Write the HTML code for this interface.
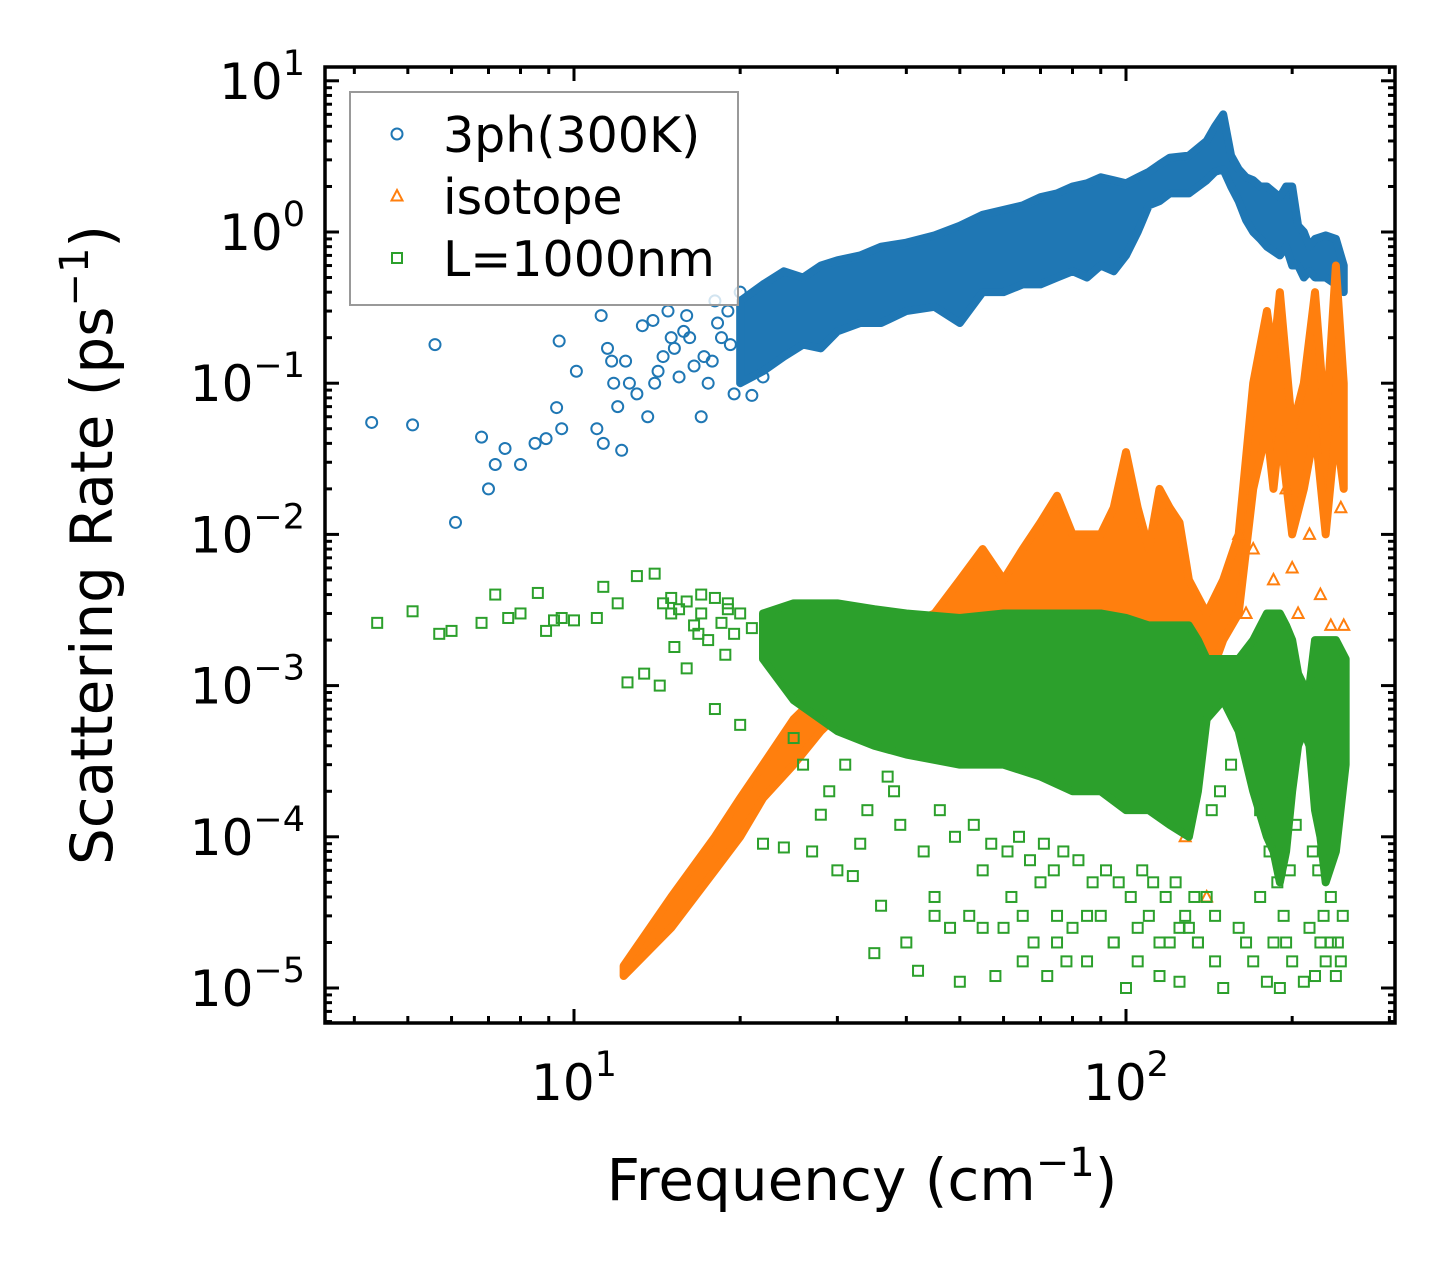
<!DOCTYPE html>
<html><head><meta charset="utf-8"><style>
html,body{margin:0;padding:0;background:#fff;}
svg{display:block;font-family:"DejaVu Sans","Liberation Sans",sans-serif;}
</style></head><body>
<svg id="chart" width="1455" height="1273" viewBox="0 0 1455 1273" xmlns="http://www.w3.org/2000/svg">
<g id="plot"></g>
</svg>
<script>
// ---- data ----
const blueSparseF=[4.3,5.1,5.6,6.1,6.8,7.0,7.2,7.5,8.0,8.5,8.9,9.3,9.4,9.5,10.1,11,11.2,11.3,11.5,11.7,11.8,12,12.2,12.4,12.6,13,13.3,13.6,13.9,14,14.5,14.8,15,15.5,16,16.5,17,17.5,18,18.5,19,19.5,20,21,22,15.2,16.2,17.2,18.2,19.2,14.2,15.8,17.8];
const blueSparseV=[0.055,0.053,0.18,0.012,0.044,0.02,0.029,0.037,0.029,0.04,0.043,0.069,0.19,0.05,0.12,0.05,0.28,0.04,0.17,0.14,0.1,0.07,0.036,0.14,0.1,0.085,0.24,0.06,0.26,0.1,0.15,0.3,0.2,0.11,0.28,0.13,0.06,0.1,0.35,0.2,0.3,0.085,0.4,0.083,0.11,0.17,0.2,0.15,0.25,0.18,0.12,0.22,0.14];
const blueBandF=[20,22,24,26,28,30,33,36,40,45,50,55,60,65,70,75,80,85,90,95,100,105,110,115,120,130,140,145,150,155,160,165,170,175,180,190,195,200,205,210,215,220,230,240,248];
const blueBandLo=[0.1,0.12,0.15,0.18,0.17,0.22,0.25,0.25,0.3,0.32,0.25,0.4,0.4,0.45,0.45,0.5,0.55,0.5,0.6,0.55,0.7,1.0,1.5,1.6,1.8,1.8,2.2,2.5,2.6,2.0,1.6,1.2,1.0,0.9,0.8,0.7,0.8,0.6,0.6,0.5,0.55,0.5,0.5,0.45,0.4];
const blueBandHi=[0.35,0.45,0.55,0.5,0.6,0.65,0.7,0.8,0.85,0.95,1.1,1.3,1.4,1.5,1.7,1.8,2.0,2.1,2.3,2.2,2.1,2.3,2.5,2.8,3.1,3.2,4.0,5.0,6.0,3.2,2.6,2.3,2.2,2.0,2.0,1.7,2.0,2.0,1.1,1.0,0.8,0.9,0.95,0.9,0.6];

const orBandF=[12.3,15,18,20,22,25,28,32,36,40,45,50,55,60,65,70,75,80,90,95,100,105,110,115,120,125,130,140,150,160,170,180,185,190,200,210,220,230,240,248];
const orBandLo=[1.2e-5,2.5e-5,6e-5,1e-4,1.8e-4,3e-4,5e-4,8e-4,1e-3,1.3e-3,1.5e-3,2e-3,2.5e-3,2e-3,2.5e-3,3e-3,3e-3,3e-3,3e-3,2e-3,3e-3,2e-3,2e-3,2e-3,1.5e-3,1e-3,1e-3,1e-3,2e-3,3e-3,2e-2,5e-2,2e-2,5e-2,1e-2,2e-2,5e-2,1e-2,5e-2,2e-2];
const orBandHi=[1.4e-5,4e-5,1e-4,1.8e-4,3e-4,6e-4,9e-4,1.5e-3,2e-3,2.5e-3,3e-3,5e-3,8e-3,5e-3,8e-3,1.2e-2,1.8e-2,1e-2,1e-2,1.5e-2,3.5e-2,1.5e-2,8e-3,2e-2,1.5e-2,1.2e-2,5e-3,3e-3,5e-3,1e-2,0.1,0.3,0.15,0.4,0.05,0.1,0.4,0.05,0.6,0.1];
const orSparseF=[125,128,140,160,165,170,185,195,200,205,215,225,235,245,248];
const orSparseV=[3e-4,1e-4,4e-5,1e-2,3e-3,8e-3,5e-3,2e-2,6e-3,3e-3,1e-2,4e-3,2.5e-3,1.5e-2,2.5e-3];

const grSparseF=[4.4,5.1,5.7,6,6.8,7.2,7.6,8,8.6,8.9,9.2,9.5,10,11,11.3,12,12.5,13,13.4,14,14.3,15,16,17,18,19,20,22,24,25,27,28,30,32,33,35,36,38,40,42,45,48,50,52,55,58,60,62,65,68,70,72,75,78,80,85,90,95,100,105,110,115,120,125,130,135,140,145,150,160,165,170,180,185,190,200,210,215,220,225,230,240,245];
const grSparseV=[2.6e-3,3.1e-3,2.2e-3,2.3e-3,2.6e-3,4e-3,2.8e-3,3e-3,4.1e-3,2.3e-3,2.7e-3,2.8e-3,2.7e-3,2.8e-3,4.5e-3,3.5e-3,1.05e-3,5.3e-3,1.2e-3,5.5e-3,1e-3,3e-3,1.3e-3,4e-3,7e-4,3.5e-3,5.5e-4,9e-5,8.5e-5,4.5e-4,8e-5,1.4e-4,6e-5,5.5e-5,9e-5,1.7e-5,3.5e-5,2e-4,2e-5,1.3e-5,4e-5,2.5e-5,1.1e-5,3e-5,6e-5,1.2e-5,2.5e-5,4e-5,1.5e-5,2e-5,5e-5,1.2e-5,3e-5,1.5e-5,2.5e-5,1.5e-5,3e-5,2e-5,1e-5,1.5e-5,3e-5,1.2e-5,2e-5,1.1e-5,2.5e-5,2e-5,4e-5,1.5e-5,1e-5,2.5e-5,2e-5,1.5e-5,1.1e-5,2e-5,1e-5,1.5e-5,1.1e-5,2.5e-5,1.2e-5,2e-5,1.5e-5,1.2e-5,1.5e-5];
const grExtraF=[14.5,15,15.5,16,16.5,17,17.5,18,18.5,19,19.5,20,21,15.2,16.8,18.8,26,29,31,34,37,39,43,46,49,53,57,61,64,67,71,74,77,82,87,92,97,102,107,112,118,123,128,133,143,148,155,175,182,188,193,198,203,218,223,228,235,242,247,45,55,65,75,85,95,105,115,125,135,145,175,195,235];
const grExtraV=[3.5e-3,3.8e-3,3.2e-3,3.6e-3,2.5e-3,3e-3,2e-3,3.8e-3,2.6e-3,3.2e-3,2.2e-3,3e-3,2.4e-3,1.8e-3,2.2e-3,1.6e-3,3e-4,2e-4,3e-4,1.5e-4,2.5e-4,1.2e-4,8e-5,1.5e-4,1e-4,1.2e-4,9e-5,8e-5,1e-4,7e-5,9e-5,6e-5,8e-5,7e-5,5e-5,6e-5,5e-5,4e-5,6e-5,5e-5,4e-5,5e-5,3e-5,4e-5,1.5e-4,2e-4,3e-4,1.5e-4,8e-5,5e-5,3e-5,6e-5,1.2e-4,8e-5,6e-5,3e-5,4e-5,2e-5,3e-5,3e-5,2.5e-5,3e-5,2e-5,3e-5,2e-5,2.5e-5,2e-5,2.5e-5,2e-5,3e-5,4e-5,2e-5,2e-5];
const grBandF=[22,25,30,35,40,50,60,70,80,90,100,110,120,130,135,140,150,160,170,180,185,190,195,200,205,210,215,220,225,230,240,250];
const grBandHi=[3e-3,3.5e-3,3.5e-3,3.2e-3,3e-3,2.8e-3,3e-3,3e-3,3e-3,3e-3,2.8e-3,2.5e-3,2.5e-3,2.5e-3,2e-3,1.5e-3,1.5e-3,1.5e-3,2e-3,3e-3,3e-3,3e-3,2.5e-3,2e-3,1.2e-3,1e-3,1e-3,2e-3,2e-3,2e-3,2e-3,1.5e-3];
const grBandLo=[1.5e-3,8e-4,5e-4,4e-4,3.5e-4,3e-4,3e-4,2.5e-4,2e-4,2e-4,1.5e-4,1.5e-4,1.2e-4,1e-4,2e-4,6e-4,8e-4,5e-4,2e-4,1e-4,8e-5,5e-5,8e-5,2e-4,4e-4,5e-4,4e-4,1.5e-4,1e-4,5e-5,8e-5,3e-4];

const xTickVals=[10,100];
const yTickExps=[1,0,-1,-2,-3,-4,-5];

// ---- axes ----
const L=325,R=1395,T=67,B=1023;
const X0=574,XD=552,Y0=232,YD=151.2;
const xs=f=>X0+XD*(Math.log10(f)-1);
const ys=v=>Y0-YD*Math.log10(v);
const NS="http://www.w3.org/2000/svg";
const g=document.getElementById('plot');
function mk(tag,attrs,parent){const e=document.createElementNS(NS,tag);for(const k in attrs)e.setAttribute(k,attrs[k]);(parent||g).appendChild(e);return e;}

const colors={blue:'#1f77b4',orange:'#ff7f0e',green:'#2ca02c'};
const clip=mk('clipPath',{id:'cp'});mk('rect',{x:L,y:T,width:R-L,height:B-T},clip);
const data=mk('g',{'clip-path':'url(#cp)'});



function band(F,Lo,Hi,col,name){
  let pts=F.map((f,i)=>xs(f)+','+ys(Hi[i]));
  for(let i=F.length-1;i>=0;i--)pts.push(xs(F[i])+','+ys(Lo[i]));
  const p=mk('polygon',{points:pts.join(' '),fill:col,stroke:col,'stroke-width':8,'stroke-linejoin':'round'},data);
  
  
}
function marker(type,x,y,col,parent,name){
  let e;
  if(type==='o')e=mk('circle',{cx:x,cy:y,r:5.5,fill:'none',stroke:col,'stroke-width':2},parent);
  else if(type==='s')e=mk('rect',{x:x-5,y:y-5,width:10,height:10,fill:'none',stroke:col,'stroke-width':2},parent);
  else e=mk('polygon',{points:`${x},${y-6} ${x+5.5},${y+4.5} ${x-5.5},${y+4.5}`,fill:'none',stroke:col,'stroke-width':2},parent);
  
  
  return e;
}
band(blueBandF,blueBandLo,blueBandHi,colors.blue,'3ph-band');
blueSparseF.forEach((f,i)=>marker('o',xs(f),ys(blueSparseV[i]),colors.blue,data,'3ph-point'));
band(orBandF,orBandLo,orBandHi,colors.orange,'isotope-band');
orSparseF.forEach((f,i)=>marker('t',xs(f),ys(orSparseV[i]),colors.orange,data,'isotope-point'));
band(grBandF,grBandLo,grBandHi,colors.green,'boundary-band');
grSparseF.forEach((f,i)=>marker('s',xs(f),ys(grSparseV[i]),colors.green,data,'boundary-point'));
grExtraF.forEach((f,i)=>marker('s',xs(f),ys(grExtraV[i]),colors.green,data,'boundary-point'));

// frame
const fr=mk('rect',{x:L,y:T,width:R-L,height:B-T,fill:'none',stroke:'#000','stroke-width':3.5});



// ticks
const tk=mk('g',{stroke:'#000','stroke-width':3});


for(let d=0;d<=2;d++){for(let m=1;m<10;m++){const f=m*Math.pow(10,d);const x=xs(f);if(x<L+1||x>R-1)continue;const len=m===1?14:7;
  mk('line',{x1:x,y1:B,x2:x,y2:B-len},tk);mk('line',{x1:x,y1:T,x2:x,y2:T+len},tk);}}
for(let e=-6;e<=1;e++){for(let m=1;m<10;m++){const v=m*Math.pow(10,e);const y=ys(v);if(y<T+1||y>B-1)continue;const len=m===1?14:7;
  mk('line',{x1:L,y1:y,x2:L+len,y2:y},tk);mk('line',{x1:R,y1:y,x2:R-len,y2:y},tk);}}

// tick labels
xTickVals.forEach(v=>{const e=Math.round(Math.log10(v));
  const t=mk('text',{x:xs(v),y:1100,'text-anchor':'middle','font-size':50});
  
  
  t.innerHTML='10<tspan dy="-24" font-size="35">'+e+'</tspan>';});
yTickExps.forEach(e=>{
  const t=mk('text',{x:305,y:ys(Math.pow(10,e))+18,'text-anchor':'end','font-size':50});
  
  
  t.innerHTML='10<tspan dy="-24" font-size="35">'+(e<0?'\u2212'+(-e):e)+'</tspan>';});

// axis titles
const xt=mk('text',{x:862,y:1200,'text-anchor':'middle','font-size':58});


xt.innerHTML='Frequency (cm<tspan dy="-24" font-size="40">\u22121</tspan><tspan dy="24">)</tspan>';
const yt=mk('text',{x:0,y:0,'text-anchor':'middle','font-size':58,transform:'translate(112,545) rotate(-90)'});


yt.innerHTML='Scattering Rate (ps<tspan dy="-24" font-size="40">\u22121</tspan><tspan dy="24">)</tspan>';

// legend
const lg=mk('g',{});


mk('rect',{x:350,y:92,width:388,height:213,fill:'rgba(255,255,255,0.8)',stroke:'#999','stroke-width':2},lg);
const entries=[['o','3ph(300K)',colors.blue],['t','isotope',colors.orange],['s','L=1000nm',colors.green]];
entries.forEach((en,i)=>{const y=134+i*62;
  const eg=mk('g',{},lg);
  
  
  marker(en[0],397,y,en[2],eg,'legend-marker');
  const t=mk('text',{x:443,y:y+18,'font-size':49},eg);
  
  
  t.textContent=en[1];});
</script>
</body></html>
